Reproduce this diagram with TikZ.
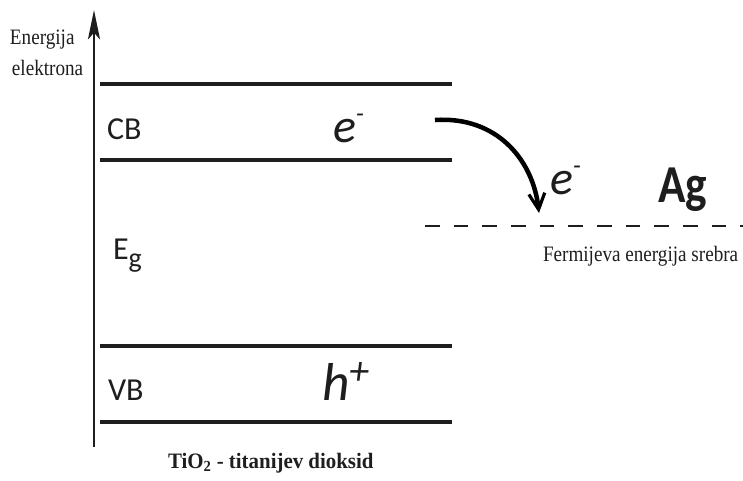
\documentclass[tikz,border=0pt]{standalone}
\usepackage{fontspec}
\setmainfont{Liberation Serif}
\newfontfamily\calib{Carlito}
\usetikzlibrary{arrows.meta}
\definecolor{ink}{HTML}{1E1E1E}
\newcommand{\sq}[2]{\scalebox{#1}[1]{#2}}
\newcommand{\fs}[1]{\fontsize{#1}{#1}\selectfont}
\begin{document}
\begin{tikzpicture}[x=0.75pt,y=-0.75pt,
  level/.style={draw=ink, line width=2.3pt},
  axisline/.style={draw=ink, line width=2.2pt, -{Stealth[length=22pt,width=9pt,inset=5pt]}},
  fermi/.style={draw=ink, line width=2.2pt, dash pattern=on 11pt off 10.5pt},
  jump/.style={draw=black, line width=3.4pt, -{Straight Barb[length=12pt,width=12pt,line width=2.4pt]}},
  lbl/.style={anchor=base west, inner sep=0pt, outer sep=0pt, text=ink}]
\useasboundingbox (0,0) rectangle (743,481);
% axis
\coordinate (axB) at (94,447);
\coordinate (axT) at (94,10);
\draw[axisline] (axB) -- (axT);
% band levels
\coordinate (c1a) at (100,84);  \coordinate (c1b) at (452,84);
\coordinate (c2a) at (100,160); \coordinate (c2b) at (452,160);
\coordinate (v1a) at (100,346); \coordinate (v1b) at (452,346);
\coordinate (v2a) at (100,422); \coordinate (v2b) at (452,422);
\draw[level] (c1a) -- (c1b);
\draw[level] (c2a) -- (c2b);
\draw[level] (v1a) -- (v1b);
\draw[level] (v2a) -- (v2b);
% Fermi level of silver
\coordinate (fa) at (425,226); \coordinate (fb) at (745,226);
\draw[fermi] (fa) -- (fb);
% electron transfer
\coordinate (js) at (435,120); \coordinate (je) at (539,213);
\draw[jump] (js) .. controls (497,116) and (533,160) .. (je);
% labels
\node[lbl, font=\fs{16.5}] (en1) at (10,45) {\sq{0.87}{Energija}};
\node[lbl, font=\fs{16.5}] (en2) at (12,76) {\sq{0.87}{elektrona}};
\node[lbl, font=\calib\fs{24}] (cb) at (107,140) {CB};
\node[lbl, font=\calib\fs{24}] (vb) at (108,400) {VB};
\node[lbl, font=\calib\fs{24}] (eg) at (113,260) {E\raisebox{-5.5pt}{\fs{21}g}};
\node[lbl, font=\calib\itshape\fs{36}] (e1) at (333,143) {e\raisebox{15pt}{\fs{20}-}};
\node[lbl, font=\calib\itshape\fs{36}] (e2) at (550,195) {e\raisebox{15pt}{\fs{20}-}};
\node[lbl, font=\calib\itshape\fs{40}] (h1) at (322,400) {h\raisebox{12pt}{\fs{30}+}};
\node[lbl, font=\calib\bfseries\fs{40}] (ag) at (658,203) {\sq{0.85}{Ag}};
\node[lbl, font=\fs{16.5}] (fer) at (543,262) {\sq{0.87}{Fermijeva energija srebra}};
\node[lbl, font=\bfseries\fs{16.5}] (tio) at (168,468) {\sq{0.95}{TiO\textsubscript{2} - titanijev dioksid}};
\end{tikzpicture}
\end{document}
